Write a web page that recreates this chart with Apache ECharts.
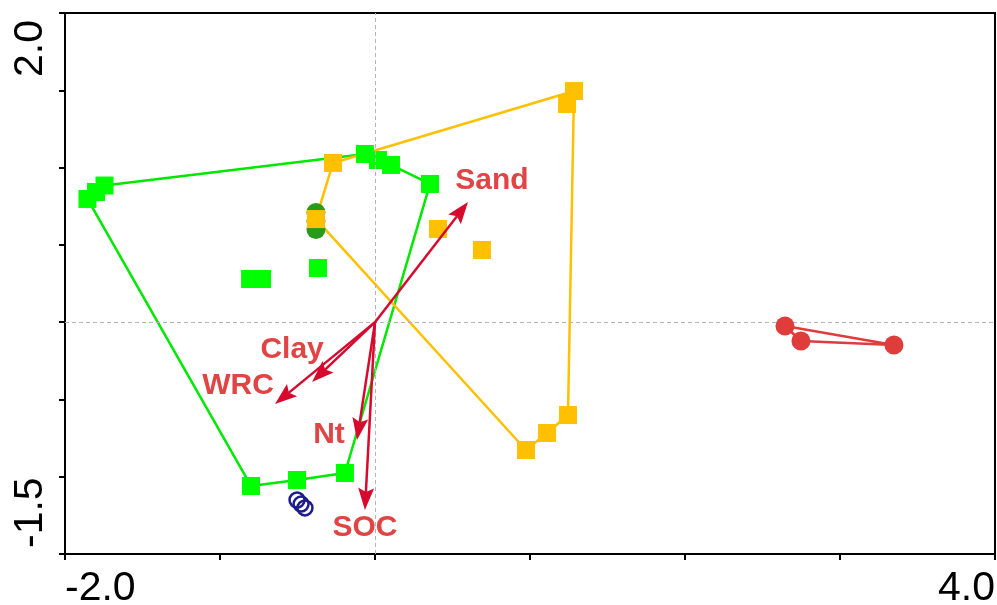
<!DOCTYPE html>
<html>
<head>
<meta charset="utf-8">
<script src="https://cdn.jsdelivr.net/npm/echarts@6/dist/echarts.min.js"></script>
<style>
  html, body { margin: 0; padding: 0; background: #fff; }
  #chart { width: 997px; height: 605px; }
</style>
</head>
<body>
<div id="chart"></div>
<script>
// Site scores on ordination axes 1 and 2, one array per group
const greenSites = [
  [-1.855, 0.797], [-1.800, 0.842], [-1.745, 0.884],
  [-0.065, 1.088], [0.019, 1.049], [0.103, 1.017], [0.355, 0.894],
  [-0.806, 0.279], [-0.729, 0.279], [-0.368, 0.350],
  [-0.800, -1.060], [-0.503, -1.021], [-0.194, -0.976]
];
const orangeSites = [
  [-0.271, 1.030], [-0.381, 0.667], [0.406, 0.603], [0.690, 0.467],
  [1.284, 1.495], [1.239, 1.411],
  [1.245, -0.601], [1.110, -0.717], [0.974, -0.827]
];
const redSites = [[2.645, -0.025], [2.748, -0.122], [3.348, -0.148]];
const navySites = [[-0.503, -1.151], [-0.477, -1.177], [-0.452, -1.202]];
const darkGreenSites = [[-0.381, 0.709], [-0.381, 0.654], [-0.381, 0.599]];

// Environmental variable vectors
const varNames = ['Sand', 'Clay', 'WRC', 'Nt', 'SOC'];
const varX = [0.600, -0.406, -0.645, -0.116, -0.065];
const varY = [0.777, -0.387, -0.530, -0.762, -1.215];

// Axis extents and the tick labels printed at the ends
const xRange = [-2.0, 4.0];
const yRange = [-1.5, 2.0];
const xTickLabels = ['-2.0', '4.0'];
const yTickLabels = ['-1.5', '2.0'];

// Pixel nudges for the vector names, relative to each arrow tip
const labelNudge = {
  Sand: [24, -21], Clay: [-20, -32], WRC: [-37, -18], Nt: [-28, -5], SOC: [0, 18]
};

const FONT = '"Liberation Sans", Arial, Helvetica, sans-serif';
const ARROW = '#d70a2e';
const LABEL = '#e04444';

// Convex hull (monotone chain); returns a closed ring
function hull(points) {
  const p = points.slice().sort((a, b) => a[0] - b[0] || a[1] - b[1]);
  const cross = (o, a, b) => (a[0] - o[0]) * (b[1] - o[1]) - (a[1] - o[1]) * (b[0] - o[0]);
  const lower = [], upper = [];
  for (const q of p) {
    while (lower.length >= 2 && cross(lower[lower.length - 2], lower[lower.length - 1], q) <= 0) lower.pop();
    lower.push(q);
  }
  for (let i = p.length - 1; i >= 0; i--) {
    const q = p[i];
    while (upper.length >= 2 && cross(upper[upper.length - 2], upper[upper.length - 1], q) <= 0) upper.pop();
    upper.push(q);
  }
  upper.pop(); lower.pop();
  const ring = lower.concat(upper);
  ring.push(ring[0]);
  return ring;
}

function hullSeries(points, color, extra) {
  return Object.assign({
    type: 'line',
    data: hull(points),
    symbol: 'none',
    lineStyle: { color: color, width: 2.5 },
    silent: true,
    animation: false,
    z: 1
  }, extra || {});
}

function pointSeries(points, symbol, size, style, z) {
  return {
    type: 'scatter', data: points, symbol: symbol, symbolSize: size,
    itemStyle: Object.assign({ opacity: 1 }, style), z: z, silent: true
  };
}

function endLabel(range, labels) {
  return function (v) {
    if (Math.abs(v - range[0]) < 1e-9) return labels[0];
    if (Math.abs(v - range[1]) < 1e-9) return labels[1];
    return '';
  };
}

const chart = echarts.init(document.getElementById('chart'), null, { renderer: 'canvas' });

chart.setOption({
  backgroundColor: '#fff',
  animation: false,
  grid: {
    left: 65, right: 2, top: 13, bottom: 51,
    show: true, borderColor: '#000', borderWidth: 2,
    containLabel: false,
    outerBoundsMode: 'none'
  },
  xAxis: {
    type: 'value',
    min: xRange[0], max: xRange[1], interval: 1,
    axisLine: { onZero: false, lineStyle: { color: '#000', width: 2 } },
    axisTick: { length: 6, lineStyle: { color: '#000', width: 2 } },
    splitLine: { show: false },
    axisLabel: {
      formatter: endLabel(xRange, xTickLabels),
      color: '#000', fontSize: 41, fontFamily: FONT,
      margin: 14,
      showMinLabel: true, showMaxLabel: true,
      alignMinLabel: 'left', alignMaxLabel: 'right'
    }
  },
  yAxis: {
    type: 'value',
    min: yRange[0], max: yRange[1], interval: 0.5,
    axisLine: { onZero: false, lineStyle: { color: '#000', width: 2 } },
    axisTick: { length: 6, lineStyle: { color: '#000', width: 2 } },
    splitLine: { show: false },
    axisLabel: {
      formatter: endLabel(yRange, yTickLabels),
      rotate: 90,
      color: '#000', fontSize: 41, fontFamily: FONT,
      margin: 14,
      padding: [0, 7, 0, 6],
      showMinLabel: true, showMaxLabel: true,
      alignMinLabel: 'left', alignMaxLabel: 'right'
    }
  },
  series: [
    hullSeries(greenSites, '#00e800', {
      markLine: {
        silent: true, symbol: 'none', animation: false,
        label: { show: false },
        lineStyle: { color: '#b4b4b4', width: 1, type: [4, 3] },
        data: [{ xAxis: 0 }, { yAxis: 0 }]
      }
    }),
    hullSeries(orangeSites, '#ffc000'),
    hullSeries(redSites, '#e03c3c'),
    pointSeries(darkGreenSites, 'circle', 19, { color: '#2a9a1a' }, 3),
    pointSeries(greenSites, 'rect', 18, { color: '#00ff00' }, 4),
    pointSeries(orangeSites, 'rect', 18, { color: '#ffc000' }, 5),
    pointSeries(redSites, 'circle', 19, { color: '#e03c3c' }, 5),
    pointSeries(navySites, 'circle', 15,
      { color: 'rgba(255,255,255,0)', borderColor: '#1c1c8c', borderWidth: 2.5 }, 5),
    {
      // Variable vectors drawn from the origin, with their names near the tips
      type: 'custom',
      coordinateSystem: 'cartesian2d',
      z: 6,
      silent: true,
      data: varNames.map((n, i) => [varX[i], varY[i], n]),
      renderItem: function (params, api) {
        const o = api.coord([0, 0]);
        const t = api.coord([api.value(0), api.value(1)]);
        const name = varNames[params.dataIndex];
        const dx = t[0] - o[0], dy = t[1] - o[1];
        const len = Math.sqrt(dx * dx + dy * dy);
        const ux = dx / len, uy = dy / len;
        const headL = 22, headW = 8, notch = 4;
        const bx = t[0] - ux * headL, by = t[1] - uy * headL;
        const nudge = labelNudge[name] || [0, 0];
        return {
          type: 'group',
          children: [
            {
              type: 'line',
              shape: { x1: o[0], y1: o[1], x2: bx + ux * notch, y2: by + uy * notch },
              style: { stroke: ARROW, lineWidth: 2.5 }
            },
            {
              type: 'polygon',
              shape: {
                points: [
                  [t[0], t[1]],
                  [bx - uy * headW, by + ux * headW],
                  [bx + ux * notch, by + uy * notch],
                  [bx + uy * headW, by - ux * headW]
                ]
              },
              style: { fill: ARROW }
            },
            {
              type: 'text',
              x: t[0] + nudge[0], y: t[1] + nudge[1],
              style: {
                text: name, fill: LABEL,
                font: 'bold 30px ' + FONT,
                align: 'center', verticalAlign: 'middle'
              }
            }
          ]
        };
      }
    }
  ]
});
</script>
</body>
</html>
